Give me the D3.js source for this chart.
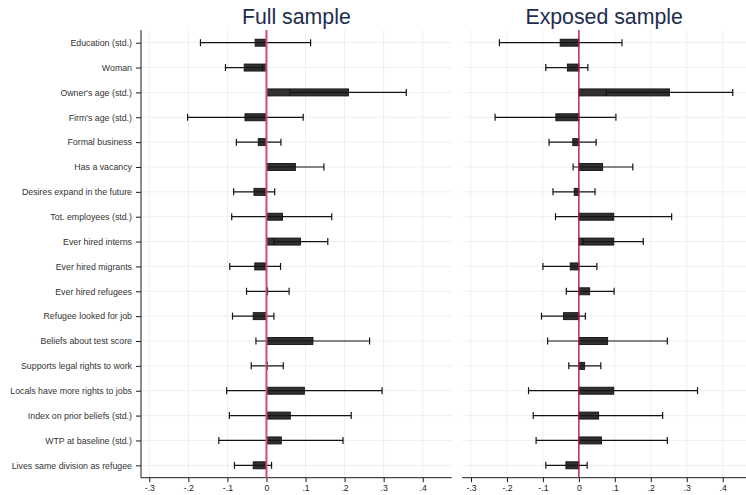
<!DOCTYPE html>
<html>
<head>
<meta charset="utf-8">
<script src="https://cdn.jsdelivr.net/npm/d3@7"></script>
<style>
  html, body { margin: 0; padding: 0; background: #fff; }
  svg { display: block; font-family: "Liberation Sans", Arial, Helvetica, sans-serif; }
</style>
</head>
<body>
<svg id="chart" width="746" height="495"></svg>
<script>
// Covariates, top to bottom
const labels = [
  "Education (std.)", "Woman", "Owner's age (std.)", "Firm's age (std.)",
  "Formal business", "Has a vacancy", "Desires expand in the future",
  "Tot. employees (std.)", "Ever hired interns", "Ever hired migrants",
  "Ever hired refugees", "Refugee looked for job", "Beliefs about test score",
  "Supports legal rights to work", "Locals have more rights to jobs",
  "Index on prior beliefs (std.)", "WTP at baseline (std.)",
  "Lives same division as refugee"
];

// Full sample: point estimates and confidence bounds
const fullCoef = [-0.029, -0.057, 0.210, -0.055, -0.021, 0.074, -0.032, 0.041, 0.087, -0.030, 0.003, -0.034, 0.119, 0.001, 0.097, 0.061, 0.038, -0.034];
const fullLo   = [-0.169, -0.105, 0.060, -0.202, -0.077, 0.001, -0.084, -0.089, 0.019, -0.094, -0.051, -0.087, -0.027, -0.039, -0.102, -0.095, -0.122, -0.082];
const fullHi   = [0.113, -0.010, 0.358, 0.094, 0.037, 0.147, 0.021, 0.167, 0.157, 0.036, 0.058, 0.019, 0.264, 0.043, 0.296, 0.217, 0.196, 0.013];

// Exposed sample: point estimates and confidence bounds
const expCoef = [-0.052, -0.032, 0.252, -0.064, -0.017, 0.066, -0.013, 0.097, 0.097, -0.024, 0.030, -0.043, 0.080, 0.016, 0.097, 0.055, 0.063, -0.036];
const expLo   = [-0.221, -0.092, 0.076, -0.233, -0.083, -0.016, -0.072, -0.065, 0.012, -0.100, -0.035, -0.104, -0.087, -0.028, -0.140, -0.127, -0.119, -0.092];
const expHi   = [0.120, 0.025, 0.428, 0.103, 0.048, 0.150, 0.045, 0.258, 0.179, 0.050, 0.098, 0.018, 0.246, 0.061, 0.330, 0.233, 0.246, 0.023];

const xTicks = [-0.3, -0.2, -0.1, 0, 0.1, 0.2, 0.3, 0.4];
const titles = ["Full sample", "Exposed sample"];

const svg = d3.select("#chart");

const plotTop = 30, axisY = 477.7;
const y = d3.scalePoint().domain(labels).range([42.7, 465.3]);

const panels = [
  { title: titles[0], coef: fullCoef, lo: fullLo, hi: fullHi,
    left: 141, right: 451.7, range: [149.3, 422.7],
    zeroColor: "#cc4f72", zeroWidth: 2, yAxis: true },
  { title: titles[1], coef: expCoef, lo: expLo, hi: expHi,
    left: 462.3, right: 746, range: [471, 722.7],
    zeroColor: "#b81c44", zeroWidth: 1.4, yAxis: false }
];

const fmt = v => v === 0 ? "0" : (v < 0 ? "-" : "") + String(Math.abs(v).toFixed(1)).replace(/^0/, "");

panels.forEach(p => {
  const x = d3.scaleLinear().domain([-0.3, 0.4]).range(p.range);
  const g = svg.append("g");

  // grid
  g.append("g").selectAll("line").data(xTicks).join("line")
    .attr("x1", d => x(d)).attr("x2", d => x(d))
    .attr("y1", plotTop).attr("y2", axisY)
    .attr("stroke", "#e9f1f3").attr("stroke-width", 1);
  g.append("g").selectAll("line").data(labels).join("line")
    .attr("x1", p.left).attr("x2", p.right)
    .attr("y1", d => y(d)).attr("y2", d => y(d))
    .attr("stroke", "#e9f1f3").attr("stroke-width", 1);

  // bottom axis
  const xAxis = d3.axisBottom(x).tickValues(xTicks).tickFormat(fmt).tickSize(4.5).tickPadding(2.5);
  const ax = g.append("g").attr("transform", `translate(0,${axisY})`).call(xAxis);
  ax.select(".domain").remove();
  ax.append("line").attr("x1", p.left).attr("x2", p.right).attr("y1", 0).attr("y2", 0)
    .attr("stroke", "#1a1a1a").attr("stroke-width", 1);
  ax.selectAll(".tick line").attr("stroke", "#1a1a1a");
  ax.selectAll(".tick text").attr("font-size", 8.7).attr("fill", "#222")
    .attr("font-family", "Liberation Sans, Arial, sans-serif");

  // left axis with covariate labels
  if (p.yAxis) {
    const yAxis = d3.axisLeft(y).tickSize(5).tickPadding(4);
    const ay = g.append("g").attr("transform", `translate(${p.left},0)`).call(yAxis);
    ay.select(".domain").remove();
    ay.append("line").attr("x1", 0).attr("x2", 0).attr("y1", plotTop).attr("y2", axisY)
      .attr("stroke", "#1a1a1a").attr("stroke-width", 1);
    ay.selectAll(".tick line").attr("stroke", "#1a1a1a");
    ay.selectAll(".tick text").attr("font-size", 8.8).attr("fill", "#333")
      .attr("font-family", "Liberation Sans, Arial, sans-serif");
  }

  const rows = labels.map((l, i) => ({ l, c: p.coef[i], lo: p.lo[i], hi: p.hi[i] }));
  const bh = 7, cap = 7;

  // coefficient bars
  g.append("g").selectAll("rect").data(rows).join("rect")
    .attr("x", d => Math.min(x(0), x(d.c)))
    .attr("width", d => Math.max(0.8, Math.abs(x(d.c) - x(0))))
    .attr("y", d => y(d.l) - bh / 2).attr("height", bh)
    .attr("fill", "#303030").attr("stroke", "#111").attr("stroke-width", 0.9);

  // confidence intervals
  const ci = g.append("g").attr("stroke", "#141414").attr("stroke-width", 1.2);
  ci.selectAll(".span").data(rows).join("line").attr("class", "span")
    .attr("x1", d => x(d.lo)).attr("x2", d => x(d.hi))
    .attr("y1", d => y(d.l)).attr("y2", d => y(d.l));
  ci.selectAll(".capl").data(rows).join("line").attr("class", "capl")
    .attr("x1", d => x(d.lo)).attr("x2", d => x(d.lo))
    .attr("y1", d => y(d.l) - cap / 2).attr("y2", d => y(d.l) + cap / 2);
  ci.selectAll(".caph").data(rows).join("line").attr("class", "caph")
    .attr("x1", d => x(d.hi)).attr("x2", d => x(d.hi))
    .attr("y1", d => y(d.l) - cap / 2).attr("y2", d => y(d.l) + cap / 2);

  // reference line at zero
  g.append("line").attr("x1", x(0)).attr("x2", x(0)).attr("y1", plotTop).attr("y2", axisY)
    .attr("stroke", p.zeroColor).attr("stroke-width", p.zeroWidth);

  // panel title
  svg.append("text").attr("x", (p.left + p.right) / 2).attr("y", 24)
    .attr("text-anchor", "middle").attr("font-size", 21.3).attr("fill", "#1e2d4f")
    .text(p.title);
});
</script>
</body>
</html>
